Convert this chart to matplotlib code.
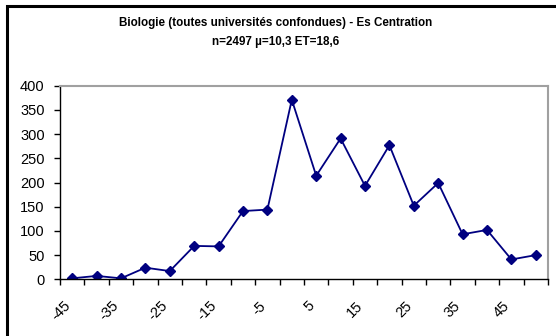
import matplotlib.pyplot as plt
from matplotlib.patches import Rectangle
from matplotlib.ticker import FixedLocator, NullFormatter
from matplotlib.transforms import ScaledTranslation

plt.rcParams['font.family'] = ['Liberation Sans', 'DejaVu Sans']

# score classes (centre of each 5-point bin) and counts
classes = [-45, -40, -35, -30, -25, -20, -15, -10, -5, 0,
           5, 10, 15, 20, 25, 30, 35, 40, 45, 50]
counts = [2, 7, 2, 24, 17, 69, 68, 141, 144, 371,
          214, 291, 193, 277, 152, 199, 93, 102, 41, 50]

title = "Biologie (toutes universités confondues) - Es Centration\nn=2497 µ=10,3 ET=18,6"

W, H = 556, 336
fig = plt.figure(figsize=(W / 100, H / 100), dpi=100)

# black frame around the chart area
fig.patches.append(Rectangle((7 / W, -0.1), 1.2, (H - 6) / H + 0.1,
                             transform=fig.transFigure, fill=False,
                             edgecolor='black', linewidth=2.2))

ax = fig.add_axes([60 / W, (H - 279.3) / H, 488 / W, (279.3 - 85.7) / H])

idx = list(range(len(classes)))
ax.plot(idx, counts, color='#000080', linewidth=1.3, marker='D',
        markersize=5.5, markerfacecolor='#000080', markeredgecolor='#000080')

ax.set_xlim(-0.5, len(classes) - 0.5)
ax.set_ylim(0, 400)
ax.set_yticks(range(0, 401, 50))

# tick marks between categories, labels on every other category
ax.xaxis.set_major_locator(FixedLocator([i - 0.5 for i in range(len(classes) + 1)]))
ax.xaxis.set_major_formatter(NullFormatter())
ax.xaxis.set_minor_locator(FixedLocator(idx[::2]))
ax.set_xticklabels([str(c) for c in classes[::2]], minor=True)
ax.tick_params(axis='x', which='major', direction='out', length=4, width=1, color='black')
ax.tick_params(axis='x', which='minor', length=0, pad=14, labelsize=10.5)
shift = ScaledTranslation(-9 / 100, 0, fig.dpi_scale_trans)
for lbl in ax.get_xticklabels(minor=True):
    lbl.set_rotation(45)
    lbl.set_ha('right')
    lbl.set_rotation_mode('anchor')
    lbl.set_transform(lbl.get_transform() + shift)

ax.tick_params(axis='y', direction='out', length=4, width=1, pad=7, labelsize=10.5)

for side in ['top', 'right']:
    ax.spines[side].set_color('#a0a0a0')
    ax.spines[side].set_linewidth(1.5)
for side in ['left', 'bottom']:
    ax.spines[side].set_color('black')
    ax.spines[side].set_linewidth(1)

fig.text(276 / W, (H - 32.5) / H, title, ha='center', va='center',
         fontsize=8.4, fontweight='bold', linespacing=1.75)

fig.savefig('out.png', dpi=100)
